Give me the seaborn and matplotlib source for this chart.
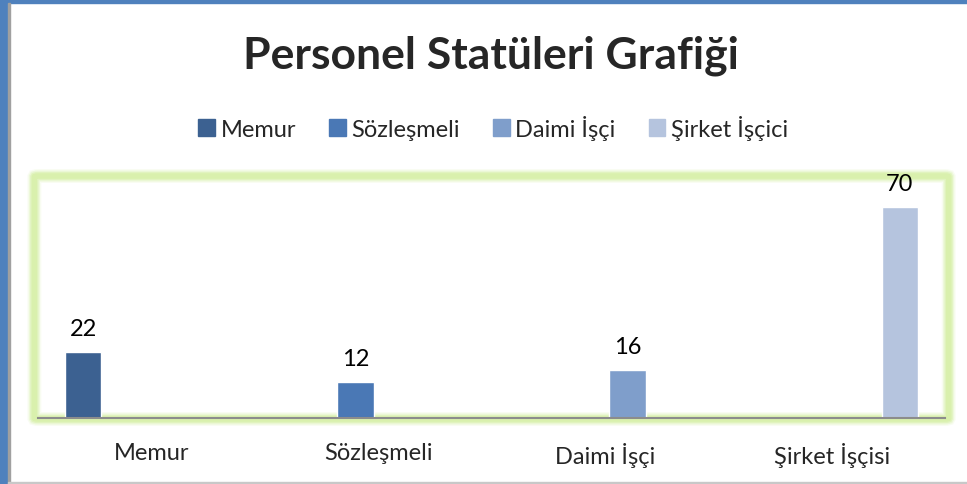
import matplotlib.pyplot as plt
import matplotlib.patches as mpatches
import seaborn as sns
import pandas as pd

categories = ['Memur', 'Sözleşmeli', 'Daimi İşçi', 'Şirket İşçisi']
series = ['Memur', 'Sözleşmeli', 'Daimi İşçi', 'Şirket İşçici']
values = [22, 12, 16, 70]
colors = ['#3C6191', '#4A78B5', '#7F9ECB', '#B5C4DE']

df = pd.DataFrame({'kategori': categories, 'seri': series, 'deger': values})

sns.set_style('white')
plt.rcParams['font.family'] = ['Lato', 'DejaVu Sans']

fig = plt.figure(figsize=(9.67, 4.85), dpi=100)
ax = fig.add_axes([0.0393, 0.136, 0.938, 0.497])

sns.barplot(data=df, x='kategori', y='deger', hue='seri', order=categories,
            hue_order=series, palette=colors, width=0.8, gap=0.2, dodge=True,
            saturation=1, legend=False, ax=ax)

for cont in ax.containers:
    for bar in cont:
        h = bar.get_height()
        if h > 0:
            ax.text(bar.get_x() + bar.get_width() / 2, h + 4.3, f'{int(h)}',
                    ha='center', va='bottom', fontsize=17, color='black')

ax.set_xlim(-0.5, 3.5)
ax.set_ylim(0, 80)
ax.set_yticks([])
ax.set_xlabel('')
ax.set_ylabel('')
ax.tick_params(axis='x', length=0, pad=17, labelsize=17)
for s in ['top', 'right', 'left']:
    ax.spines[s].set_visible(False)
ax.spines['bottom'].set_color('#8C8C8C')
ax.spines['bottom'].set_linewidth(1.5)

# light green glow round the plot area
for lw, a in [(10, 0.15), (8, 0.3), (6, 0.5), (4, 0.7)]:
    glow = mpatches.FancyBboxPatch((0, 0), 1, 1, boxstyle='round,pad=0.004',
                                   transform=ax.transAxes, fill=False,
                                   edgecolor='#D6F0A6', linewidth=lw, alpha=a,
                                   clip_on=False, zorder=-1)
    ax.add_patch(glow)

# outer frame
fig.patches.append(mpatches.Rectangle((0, 0), 0.008, 1, transform=fig.transFigure,
                                      color='#4F81BD', zorder=0))
fig.patches.append(mpatches.Rectangle((0, 0.992), 1, 0.008, transform=fig.transFigure,
                                      color='#4F81BD', zorder=0))
fig.patches.append(mpatches.Rectangle((0.008, 0.0), 0.002, 0.992, transform=fig.transFigure,
                                      color='#A0A0A0', zorder=0))
fig.patches.append(mpatches.Rectangle((0.008, 0.0), 0.992, 0.004, transform=fig.transFigure,
                                      color='#C8C8C8', zorder=0))

fig.text(0.508, 0.885, 'Personel Statüleri Grafiği', ha='center', va='center',
         fontsize=32, fontweight='bold')

handles = [mpatches.Patch(color=c, label=s) for c, s in zip(colors, series)]
fig.legend(handles=handles, loc='center', bbox_to_anchor=(0.51, 0.735), ncol=4,
           frameon=False, fontsize=17, handlelength=0.7, handleheight=0.7,
           handletextpad=0.25, columnspacing=1.4)

plt.savefig('out.png', dpi=100)
